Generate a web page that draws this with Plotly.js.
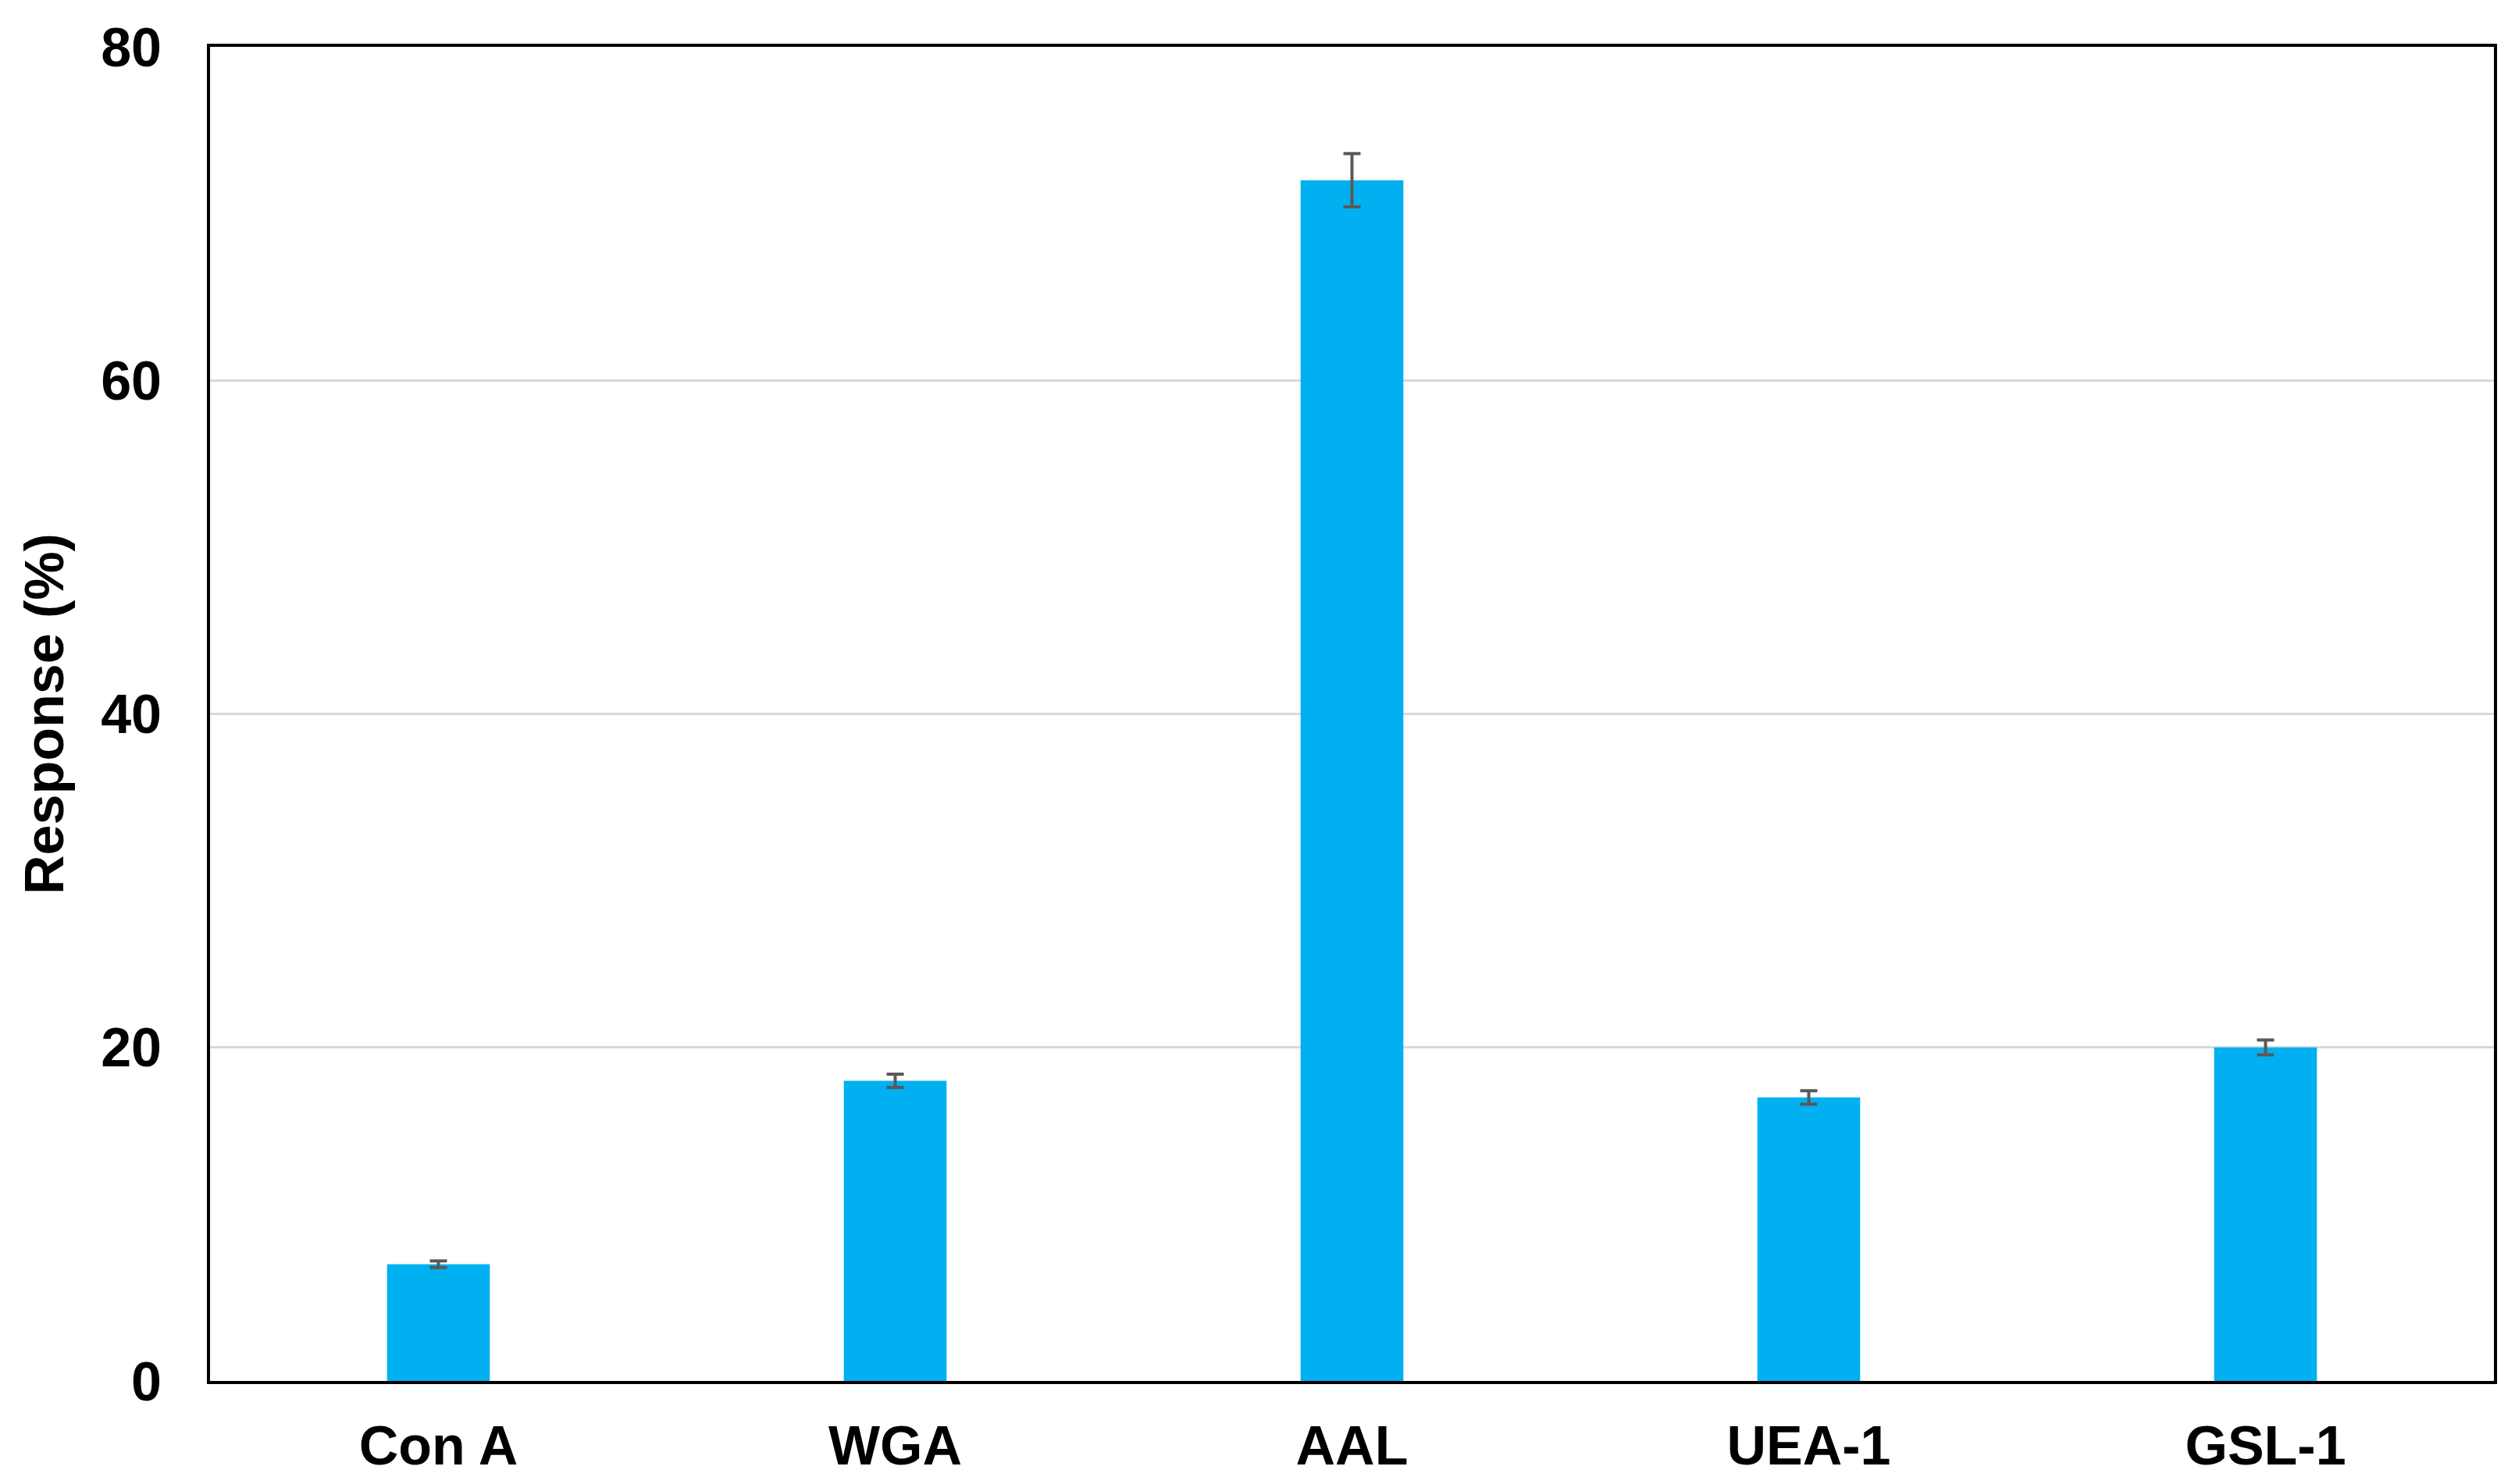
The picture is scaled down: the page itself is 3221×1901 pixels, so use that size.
<!DOCTYPE html>
<html>
<head>
<meta charset="utf-8">
<script src="https://cdn.plot.ly/plotly-3.0.1.min.js"></script>
<style>
  html, body { margin: 0; padding: 0; background: #ffffff; }
  #chart { width: 3221px; height: 1901px; }
</style>
</head>
<body>
<div id="chart"></div>
<script>
const categories = ["Con A", "WGA", "AAL", "UEA-1", "GSL-1"];
const responseValues = [7.0, 18.0, 72.0, 17.0, 20.0];
const responseErrors = [0.2, 0.4, 1.6, 0.4, 0.45];
const yTickValues = [0, 20, 40, 60, 80];
const yTickLabels = ["0", "20", "40", "60", "80"];

const fontFamily = "Liberation Sans, Arial, Helvetica, sans-serif";

const trace = {
  type: "bar",
  x: categories,
  y: responseValues,
  marker: { color: "#00B0F0", line: { width: 0 } },
  error_y: {
    type: "data",
    array: responseErrors,
    visible: true,
    color: "#595959",
    thickness: 4,
    width: 11
  },
  hoverinfo: "x+y"
};

const layout = {
  width: 3221,
  height: 1901,
  paper_bgcolor: "#ffffff",
  plot_bgcolor: "#ffffff",
  margin: { l: 269, r: 27, t: 60, b: 132, pad: 0 },
  bargap: 0.775,
  showlegend: false,
  font: { family: fontFamily, size: 70, color: "#000000", weight: "bold" },
  xaxis: {
    type: "category",
    showline: true,
    linecolor: "#000000",
    linewidth: 4,
    mirror: true,
    showgrid: false,
    zeroline: false,
    ticks: "outside",
    ticklen: 19,
    tickcolor: "rgba(0,0,0,0)",
    tickfont: { family: fontFamily, size: 70, color: "#000000", weight: "bold" },
    automargin: false
  },
  yaxis: {
    range: [0, 80],
    tickvals: yTickValues,
    ticktext: yTickLabels,
    showline: true,
    linecolor: "#000000",
    linewidth: 4,
    mirror: true,
    showgrid: true,
    gridcolor: "#d9d9d9",
    gridwidth: 3,
    zeroline: false,
    ticks: "outside",
    ticklen: 44,
    tickcolor: "rgba(0,0,0,0)",
    tickfont: { family: fontFamily, size: 70, color: "#000000", weight: "bold" },
    title: {
      text: "Response (%)",
      font: { family: fontFamily, size: 70, color: "#000000", weight: "bold" },
      standoff: 26
    },
    automargin: false
  }
};

Plotly.newPlot("chart", [trace], layout, { staticPlot: true, displayModeBar: false });
</script>
</body>
</html>
